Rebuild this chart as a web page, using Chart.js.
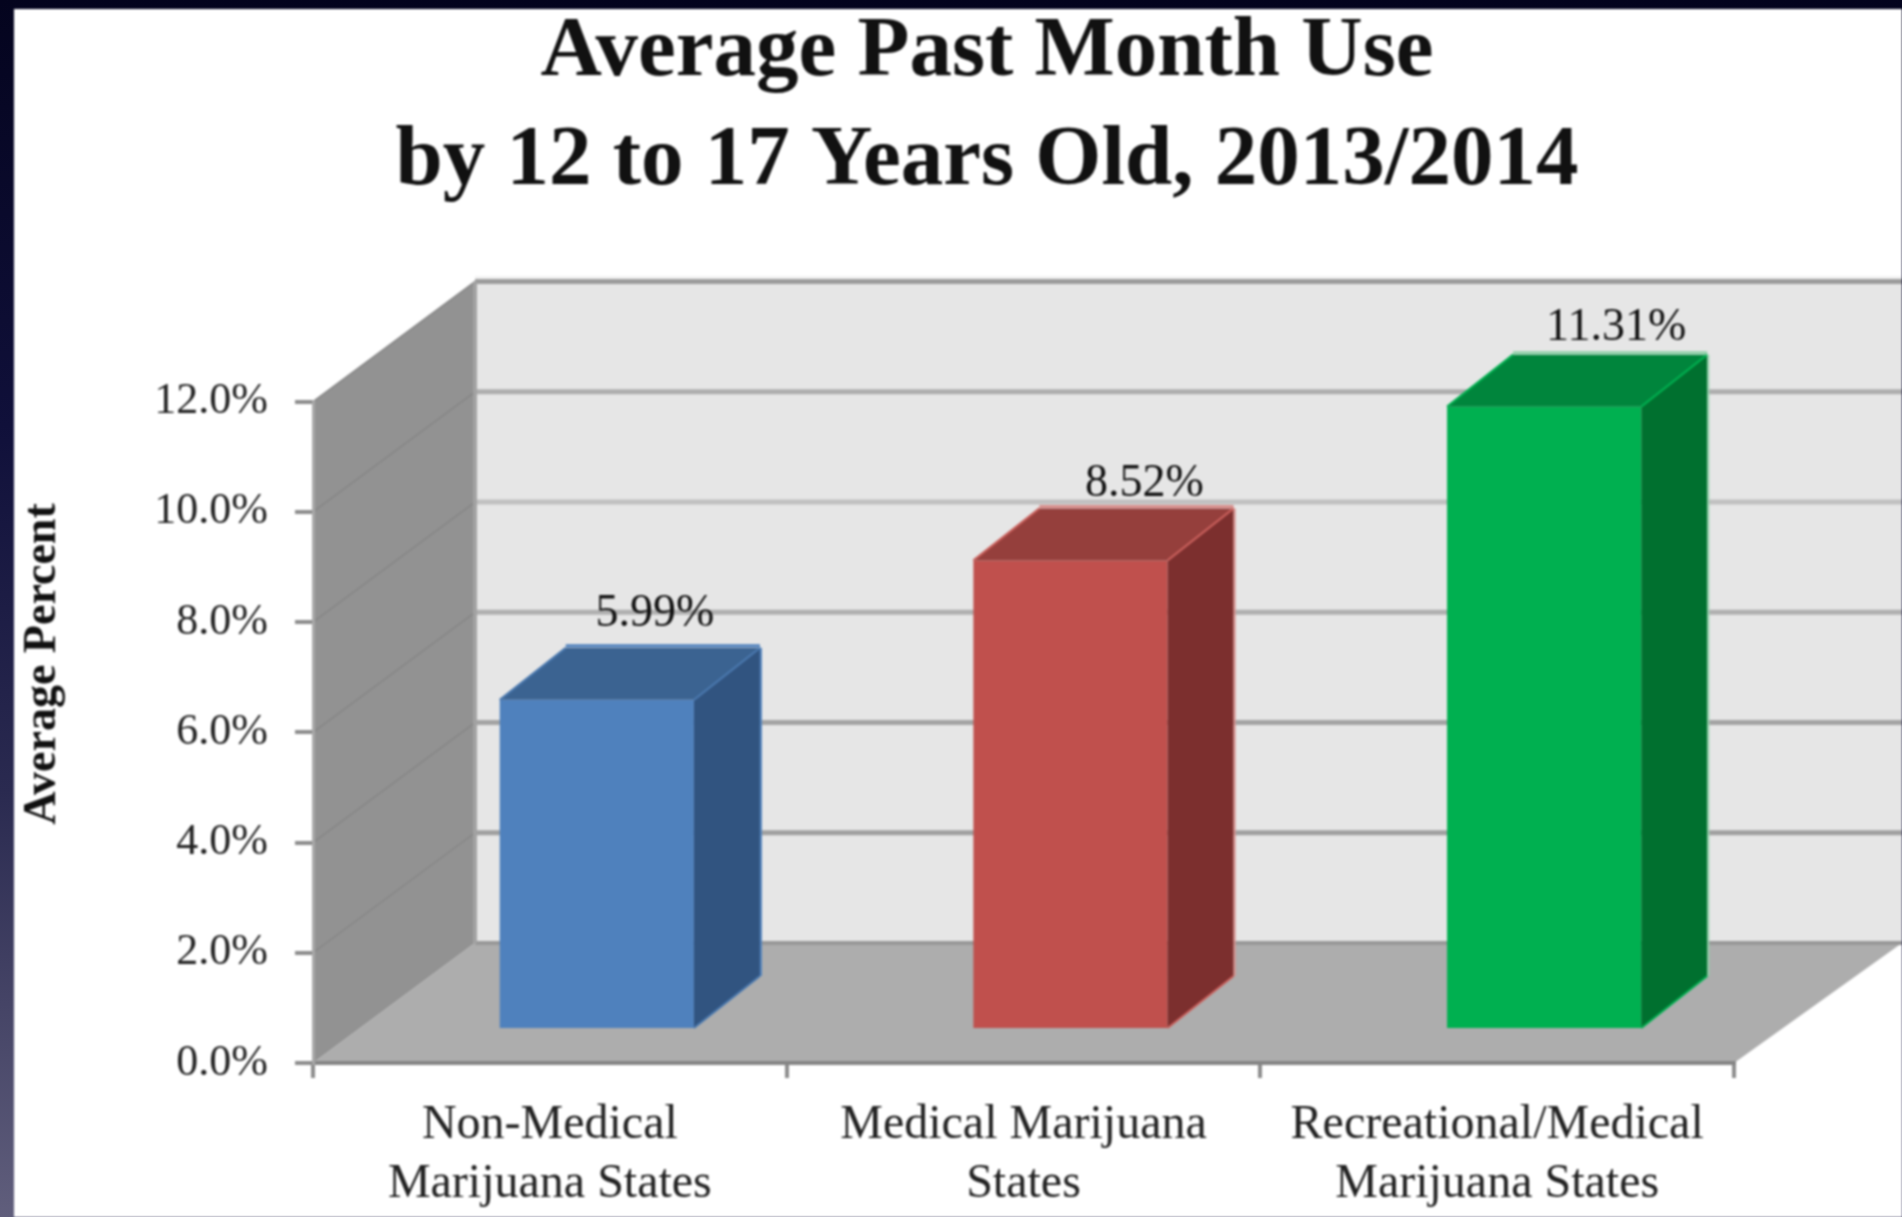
<!DOCTYPE html>
<html>
<head>
<meta charset="utf-8">
<title>Average Past Month Use</title>
<script src="https://cdn.jsdelivr.net/npm/chart.js@4"></script>
<style>
    html, body { margin: 0; height: 100%; overflow: hidden; }
    body { background: linear-gradient(#04041e, #10103a 35%, #2a2a50 65%, #605e7c); }
    #useChart { position: absolute; left: 14px; top: 9px; background: #fff; filter: blur(0.8px); }
</style>
</head>
<body>
<canvas id="useChart" width="1888" height="1208"></canvas>
<script>
const titleLines = ["Average Past Month Use", "by 12 to 17 Years Old, 2013/2014"];
const yAxisTitle = "Average Percent";
const categories = [
    ["Non-Medical", "Marijuana States"],
    ["Medical Marijuana", "States"],
    ["Recreational/Medical", "Marijuana States"]
];
const useValues = [5.99, 8.52, 11.31];
const valueLabels = ["5.99%", "8.52%", "11.31%"];
const tickLabels = ["0.0%", "2.0%", "4.0%", "6.0%", "8.0%", "10.0%", "12.0%"];

const frontColors = ["#4f81bd", "#c0504d", "#00b050"];
const topColors = ["#3b6391", "#953f3c", "#00853c"];
const sideColors = ["#315480", "#7c2f2e", "#00702f"];
const edgeColors = ["#4a78ae", "#c9605c", "#00b050"];
const backEdgeColors = ["#4f81bd", "#d98f8c", "#8fd0a8"];
const gridColors = ["#989898", "#a0a0a0", "#a4a4a4", "#b0b0b0", "#c0c0c0", "#aeaeae", "#9c9c9c"];

const wallDepth = { x: 162, y: 120 };     // front plane to back wall
const barOffset = { x: 47, y: 33 };       // front of the bars, in from the front plane
const barDepth = { x: 66, y: 52 };
const labelShift = [{ x: 58, y: 86 }, { x: 74, y: 76 }, { x: 72, y: 79 }];

const serif = '"Liberation Serif", serif';

var fillPoly = (ctx, points, color) => {
    ctx.fillStyle = color;
    ctx.beginPath();
    points.forEach((p, i) => i ? ctx.lineTo(p[0], p[1]) : ctx.moveTo(p[0], p[1]));
    ctx.closePath();
    ctx.fill();
}

var strokeLine = (ctx, x1, y1, x2, y2, color, width) => {
    ctx.strokeStyle = color;
    ctx.lineWidth = width;
    ctx.beginPath();
    ctx.moveTo(x1, y1);
    ctx.lineTo(x2, y2);
    ctx.stroke();
}

// back wall, side wall and floor hang off the y scale
const wallsPlugin = {
    id: 'walls',
    afterLayout(chart) {
        // title is centred a little right of the canvas middle
        chart.titleBlock.left = 58;
        chart.titleBlock.right = chart.width;
    },
    beforeDraw(chart) {
        const ctx = chart.ctx;
        const { left, right, top, bottom } = chart.chartArea;
        const y = chart.scales.y;
        const dx = wallDepth.x, dy = wallDepth.y;
        ctx.save();
        ctx.fillStyle = '#e6e6e6';
        ctx.fillRect(left + dx, top - dy, chart.width - left - dx, bottom - top);
        fillPoly(ctx, [[left, top], [left + dx, top - dy], [left + dx, bottom - dy], [left, bottom]], '#929292');
        fillPoly(ctx, [[left, bottom], [left + dx, bottom - dy], [chart.width, bottom - dy], [right, bottom]], '#adadad');
        strokeLine(ctx, left + dx, top - dy - 4, chart.width, top - dy - 4, '#f2f2f2', 3);
        tickLabels.forEach((t, i) => {
            const py = y.getPixelForValue(i * 2);
            strokeLine(ctx, left + dx, py - dy, chart.width, py - dy, gridColors[i], i ? 5 : 4);
            if (i) strokeLine(ctx, left, py, left + dx, py - dy, '#868686', 1.5);
        });
        strokeLine(ctx, left + dx, top - dy, left + dx, bottom - dy, '#a2a2a2', 4);
        ctx.restore();
    },
    beforeDatasetsDraw(chart) {
        chart.ctx.save();
        chart.ctx.translate(barOffset.x, -barOffset.y);
    },
    afterDatasetsDraw(chart) {
        const ctx = chart.ctx;
        const dx = barDepth.x, dy = barDepth.y;
        chart.getDatasetMeta(0).data.forEach((bar, i) => {
            const l = bar.x - bar.width / 2, r = bar.x + bar.width / 2;
            fillPoly(ctx, [[r, bar.y], [r + dx, bar.y - dy], [r + dx, bar.base - dy], [r, bar.base]], sideColors[i]);
            fillPoly(ctx, [[l, bar.y], [l + dx, bar.y - dy], [r + dx, bar.y - dy], [r, bar.y]], topColors[i]);
            strokeLine(ctx, l, bar.y, l + dx, bar.y - dy, edgeColors[i], 2);
            strokeLine(ctx, r, bar.y, r + dx, bar.y - dy, edgeColors[i], 2);
            strokeLine(ctx, r, bar.base, r + dx, bar.base - dy, edgeColors[i], 2);
            strokeLine(ctx, l + dx, bar.y - dy - 2, r + dx, bar.y - dy - 2, backEdgeColors[i], 3);
            strokeLine(ctx, r + dx + 1, bar.y - dy, r + dx + 1, bar.base - dy, backEdgeColors[i], 2);

            ctx.fillStyle = '#111';
            ctx.font = '46px ' + serif;
            ctx.textAlign = 'center';
            ctx.textBaseline = 'middle';
            ctx.fillText(valueLabels[i], bar.x + labelShift[i].x, bar.y - labelShift[i].y);
        });
        ctx.restore();
    },
    afterDraw(chart) {
        const ctx = chart.ctx;
        ctx.save();
        ctx.translate(29, 655);
        ctx.rotate(-Math.PI / 2);
        ctx.fillStyle = '#111';
        ctx.font = 'bold 46px ' + serif;
        ctx.textAlign = 'center';
        ctx.textBaseline = 'middle';
        ctx.fillText(yAxisTitle, 0, 0);
        ctx.restore();
    }
};

window.onload = function() {
    window.useChart = new Chart(document.getElementById("useChart"), {
        type: 'bar',
        data: {
            labels: categories,
            datasets: [{
                data: useValues,
                backgroundColor: frontColors,
                borderWidth: 0,
                categoryPercentage: 1,
                barPercentage: 0.41
            }]
        },
        options: {
            responsive: false,
            animation: false,
            layout: { padding: { left: 58, right: 168 } },
            plugins: {
                legend: { display: false },
                tooltip: { enabled: false },
                title: {
                    display: true,
                    text: titleLines,
                    color: '#111',
                    font: { family: serif, size: 85, weight: 'bold', lineHeight: 1.28 },
                    padding: { top: -10, bottom: 185 }
                }
            },
            scales: {
                x: {
                    afterFit: (scale) => { scale.height = 154; },
                    border: { color: '#858585', width: 4 },
                    grid: { offset: true, drawOnChartArea: false, color: '#8c8c8c', lineWidth: 4, tickLength: 15 },
                    ticks: {
                        color: '#222',
                        padding: 18,
                        maxRotation: 0,
                        autoSkip: false,
                        font: { family: serif, size: 48, lineHeight: 1.23 }
                    }
                },
                y: {
                    min: 0,
                    max: 12,
                    afterFit: (scale) => { scale.width = 241; },
                    border: { color: '#a8a8a8', width: 3 },
                    grid: { drawOnChartArea: false, color: '#8c8c8c', lineWidth: 4, tickLength: 18 },
                    ticks: {
                        stepSize: 2,
                        color: '#222',
                        padding: 27,
                        font: { family: serif, size: 44 },
                        callback: (value) => tickLabels[value / 2]
                    }
                }
            }
        },
        plugins: [wallsPlugin]
    });
}
</script>
</body>
</html>
